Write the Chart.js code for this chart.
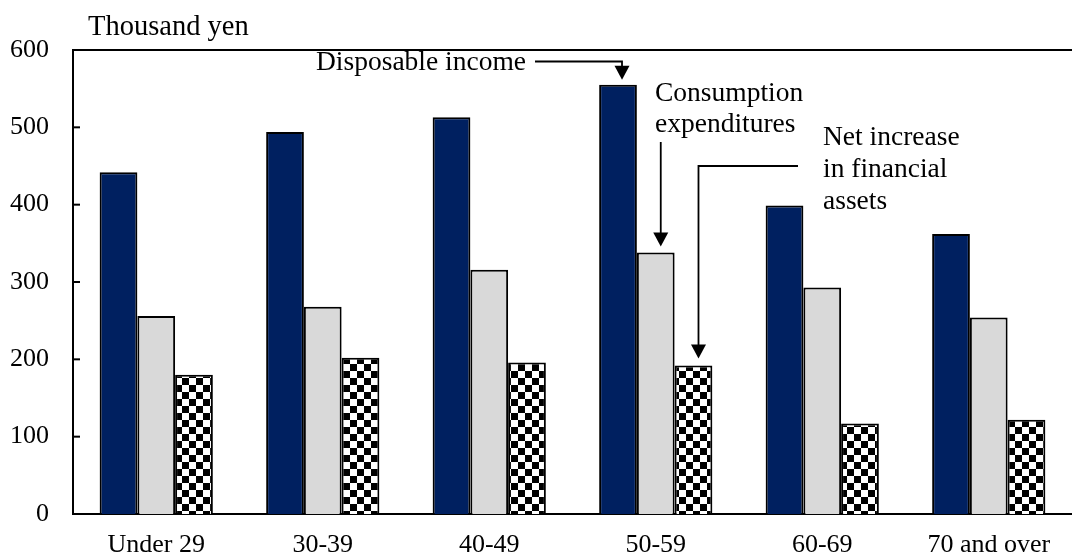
<!DOCTYPE html>
<html><head><meta charset="utf-8">
<script src="https://cdn.jsdelivr.net/npm/chart.js@4.4.1/dist/chart.umd.min.js"></script>
<style>html,body{margin:0;padding:0;background:#fff}</style>
</head><body>
<canvas id="c" width="1072" height="556"></canvas>
<script>
const categories = ['Under 29', '30-39', '40-49', '50-59', '60-69', '70 and over'];
const disposableIncome = [442, 494, 513, 555, 399, 362];
const consumptionExpenditures = [256, 268, 316, 338, 293, 254];
const netIncreaseFinancialAssets = [180, 202, 196, 192, 117, 122];
const yTicks = [0, 100, 200, 300, 400, 500, 600];
const unitLabel = 'Thousand yen';
const seriesNames = ['Disposable income', 'Consumption expenditures', 'Net increase in financial assets'];

const FONT = '"Liberation Serif", "Times New Roman", serif';

function checker(s) {
  const c = document.createElement('canvas');
  c.width = 2 * s; c.height = 2 * s;
  const g = c.getContext('2d');
  g.fillStyle = '#fff'; g.fillRect(0, 0, 2 * s, 2 * s);
  g.fillStyle = '#000';
  g.fillRect(0, 0, s, s); g.fillRect(s, s, s, s);
  return g.createPattern(c, 'repeat');
}
const checkerPattern = checker(7);

function arrowHead(ctx, x, y) {
  ctx.beginPath();
  ctx.moveTo(x, y);
  ctx.lineTo(x - 7.5, y - 14);
  ctx.lineTo(x + 7.5, y - 14);
  ctx.closePath();
  ctx.fill();
}

const annot = {
  id: 'annot',
  afterDraw(chart) {
    const ctx = chart.ctx;
    const a = chart.chartArea;
    ctx.save();
    ctx.strokeStyle = '#000'; ctx.lineWidth = 2;
    ctx.beginPath(); ctx.moveTo(a.left - 1, a.top); ctx.lineTo(a.right, a.top); ctx.stroke();
    const ys = chart.scales.y;
    yTicks.forEach(v => {
      const py = ys.getPixelForValue(v);
      ctx.beginPath(); ctx.moveTo(a.left, py); ctx.lineTo(a.left + 7, py); ctx.stroke();
    });
    ctx.fillStyle = '#000';
    ctx.textBaseline = 'alphabetic';
    ctx.textAlign = 'left';
    ctx.font = '28.5px ' + FONT;
    ctx.fillText(unitLabel, 88, 35);

    const b0 = chart.getDatasetMeta(0).data[3];
    const b1 = chart.getDatasetMeta(1).data[3];
    const b2 = chart.getDatasetMeta(2).data[3];
    ctx.font = '27.5px ' + FONT;
    ctx.textAlign = 'right';
    ctx.fillText('Disposable income', 526, 70);
    ctx.textAlign = 'left';
    ctx.fillText('Consumption', 655, 101);
    ctx.fillText('expenditures', 655, 132);
    ctx.fillText('Net increase', 823, 145);
    ctx.fillText('in financial', 823, 177);
    ctx.fillText('assets', 823, 209);

    ctx.lineWidth = 1.8;
    const x0 = b0.x + 4, t0 = b0.y - 5;
    ctx.beginPath(); ctx.moveTo(535, 61.5); ctx.lineTo(x0, 61.5); ctx.lineTo(x0, t0 - 12); ctx.stroke();
    arrowHead(ctx, x0, t0);
    const x1 = b1.x + 5, t1 = b1.y - 6;
    ctx.beginPath(); ctx.moveTo(x1, 142); ctx.lineTo(x1, t1 - 12); ctx.stroke();
    arrowHead(ctx, x1, t1);
    const x2 = b2.x + 5, t2 = b2.y - 7;
    ctx.beginPath(); ctx.moveTo(798, 166); ctx.lineTo(x2, 166); ctx.lineTo(x2, t2 - 12); ctx.stroke();
    arrowHead(ctx, x2, t2);
    ctx.restore();
  }
};

new Chart(document.getElementById('c'), {
  type: 'bar',
  data: {
    labels: categories,
    datasets: [
      { label: seriesNames[0], data: disposableIncome, backgroundColor: '#002060', borderColor: '#000', borderWidth: 2 },
      { label: seriesNames[1], data: consumptionExpenditures, backgroundColor: '#d9d9d9', borderColor: '#000', borderWidth: 2 },
      { label: seriesNames[2], data: netIncreaseFinancialAssets, backgroundColor: checkerPattern, borderColor: '#000', borderWidth: 2 }
    ]
  },
  options: {
    responsive: false,
    animation: false,
    devicePixelRatio: 1,
    layout: { padding: { top: 50, left: 0, right: 0, bottom: 0 } },
    datasets: { bar: { barPercentage: 1, categoryPercentage: 0.68 } },
    plugins: { legend: { display: false }, tooltip: { enabled: false } },
    scales: {
      x: {
        grid: { display: false, drawTicks: false },
        border: { display: true, color: '#000', width: 2 },
        ticks: { color: '#000', font: { family: FONT, size: 26 }, padding: 16, maxRotation: 0, autoSkip: false },
        afterFit(s) { s.height = 42; s.paddingLeft = 0; s.paddingRight = 0; }
      },
      y: {
        min: 0, max: 600,
        grid: { display: false, drawTicks: false },
        border: { display: true, color: '#000', width: 2 },
        ticks: { stepSize: 100, color: '#000', font: { family: FONT, size: 26 }, padding: 24 },
        afterFit(s) { s.width = 73; }
      }
    }
  },
  plugins: [annot]
});
</script>
</body></html>
